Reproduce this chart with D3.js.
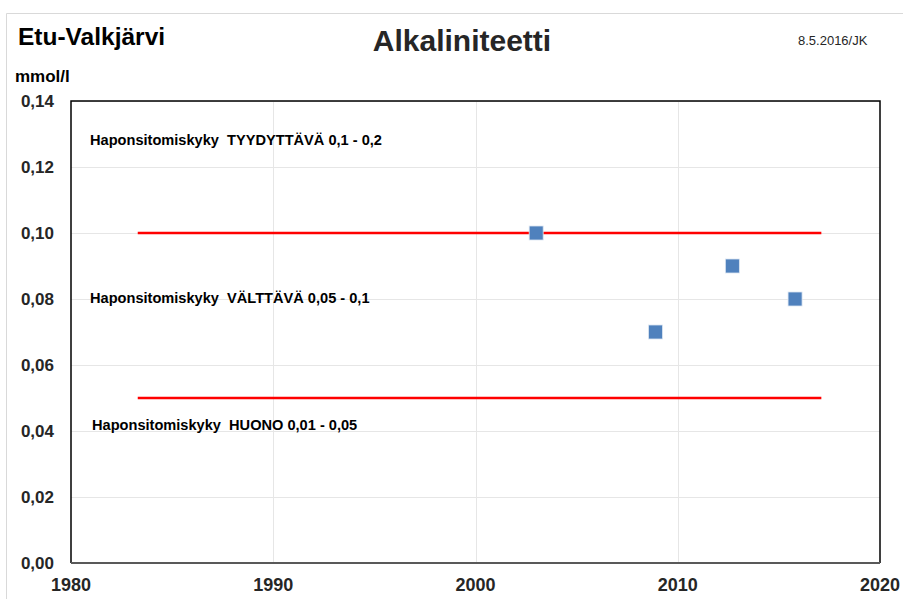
<!DOCTYPE html>
<html>
<head>
<meta charset="utf-8">
<script src="https://cdn.jsdelivr.net/npm/d3@7"></script>
<style>
  body { margin: 0; background: #fff; }
  text { font-family: "Liberation Sans", Arial, sans-serif; }
</style>
</head>
<body>
<div id="chart"></div>
<script>
var years = [2003.0, 2008.9, 2012.7, 2015.8];
var alkalinity = [0.10, 0.07, 0.09, 0.08];

var limitValues = [0.10, 0.05];
var limitStart = 1983.3;
var limitEnd = 2017.1;

var classLabels = [
  { text: 'Haponsitomiskyky  TYYDYTTÄVÄ 0,1 - 0,2', v: 0.1267, dx: 0 },
  { text: 'Haponsitomiskyky  VÄLTTÄVÄ 0,05 - 0,1', v: 0.0788, dx: 0 },
  { text: 'Haponsitomiskyky  HUONO 0,01 - 0,05', v: 0.0403, dx: 2 }
];

var xTicks = [1980, 1990, 2000, 2010, 2020];
var yTicks = [0, 0.02, 0.04, 0.06, 0.08, 0.10, 0.12, 0.14];

var width = 903, height = 599;
var margin = { left: 71, right: 23, top: 101, bottom: 36 };

var svg = d3.select('#chart')
    .append('svg')
    .attr('width', width)
    .attr('height', height);

// outer frame
svg.append('path')
    .attr('d', 'M6.5,' + height + 'V13.5H' + width)
    .attr('fill', 'none')
    .attr('stroke', '#d9d9d9');

var x = d3.scaleLinear()
    .domain([1980, 2020])
    .range([margin.left, width - margin.right]);

var y = d3.scaleLinear()
    .domain([0, 0.14])
    .range([height - margin.bottom, margin.top]);

// gridlines
svg.append('g')
    .selectAll('line')
    .data(yTicks.slice(1))
    .enter()
    .append('line')
    .attr('x1', x(1980)).attr('x2', x(2020))
    .attr('y1', function(d) { return Math.round(y(d)) + 0.5; })
    .attr('y2', function(d) { return Math.round(y(d)) + 0.5; })
    .attr('stroke', '#e6e6e6');

svg.append('g')
    .selectAll('line')
    .data(xTicks.slice(1, -1))
    .enter()
    .append('line')
    .attr('y1', y(0)).attr('y2', y(0.14))
    .attr('x1', function(d) { return Math.round(x(d)) + 0.5; })
    .attr('x2', function(d) { return Math.round(x(d)) + 0.5; })
    .attr('stroke', '#e6e6e6');

// plot border
svg.append('path')
    .attr('d', 'M' + x(1980) + ',' + y(0) + 'V' + y(0.14) + 'H' + x(2020) + 'V' + y(0))
    .attr('fill', 'none')
    .attr('stroke', '#000')
    .attr('stroke-width', 1.5);

svg.append('line')
    .attr('x1', x(1980)).attr('x2', x(2020))
    .attr('y1', y(0)).attr('y2', y(0))
    .attr('stroke', '#595959')
    .attr('stroke-width', 2);

// axes labels
var fmt = function(d) { return d3.format('.2f')(d).replace('.', ','); };

svg.append('g')
    .selectAll('text')
    .data(yTicks)
    .enter()
    .append('text')
    .attr('x', 54)
    .attr('y', function(d) { return y(d) + 6; })
    .attr('text-anchor', 'end')
    .attr('font-size', 17)
    .attr('font-weight', 'bold')
    .attr('fill', '#262626')
    .text(fmt);

svg.append('g')
    .selectAll('text')
    .data(xTicks)
    .enter()
    .append('text')
    .attr('x', function(d) { return x(d); })
    .attr('y', y(0) + 28)
    .attr('text-anchor', 'middle')
    .attr('font-size', 18)
    .attr('font-weight', 'bold')
    .attr('fill', '#262626')
    .text(function(d) { return d; });

// limit lines
svg.append('g')
    .selectAll('line')
    .data(limitValues)
    .enter()
    .append('line')
    .attr('x1', x(limitStart)).attr('x2', x(limitEnd))
    .attr('y1', function(d) { return y(d); })
    .attr('y2', function(d) { return y(d); })
    .attr('stroke', '#ff0000')
    .attr('stroke-width', 2.5);

// class labels
svg.append('g')
    .selectAll('text')
    .data(classLabels)
    .enter()
    .append('text')
    .attr('x', function(d) { return 90 + d.dx; })
    .attr('y', function(d) { return y(d.v); })
    .attr('font-size', 14.6)
    .attr('font-weight', 'bold')
    .attr('fill', '#000')
    .attr('xml:space', 'preserve')
    .style('white-space', 'pre')
    .text(function(d) { return d.text; });

// data points
svg.append('g')
    .selectAll('rect')
    .data(years)
    .enter()
    .append('rect')
    .attr('x', function(d) { return x(d) - 7; })
    .attr('y', function(d, i) { return y(alkalinity[i]) - 7; })
    .attr('width', 14)
    .attr('height', 14)
    .attr('fill', '#4f81bd')
    .attr('stroke', '#dce6f2')
    .attr('stroke-width', 0.8);

// titles
svg.append('text')
    .attr('x', 18).attr('y', 45)
    .attr('font-size', 24.5)
    .attr('font-weight', 'bold')
    .text('Etu-Valkjärvi');

svg.append('text')
    .attr('x', 462).attr('y', 51)
    .attr('text-anchor', 'middle')
    .attr('font-size', 30)
    .attr('font-weight', 'bold')
    .attr('fill', '#262626')
    .text('Alkaliniteetti');

svg.append('text')
    .attr('x', 798).attr('y', 45)
    .attr('font-size', 13)
    .attr('fill', '#262626')
    .text('8.5.2016/JK');

svg.append('text')
    .attr('x', 15).attr('y', 82)
    .attr('font-size', 17)
    .attr('font-weight', 'bold')
    .text('mmol/l');
</script>
</body>
</html>
